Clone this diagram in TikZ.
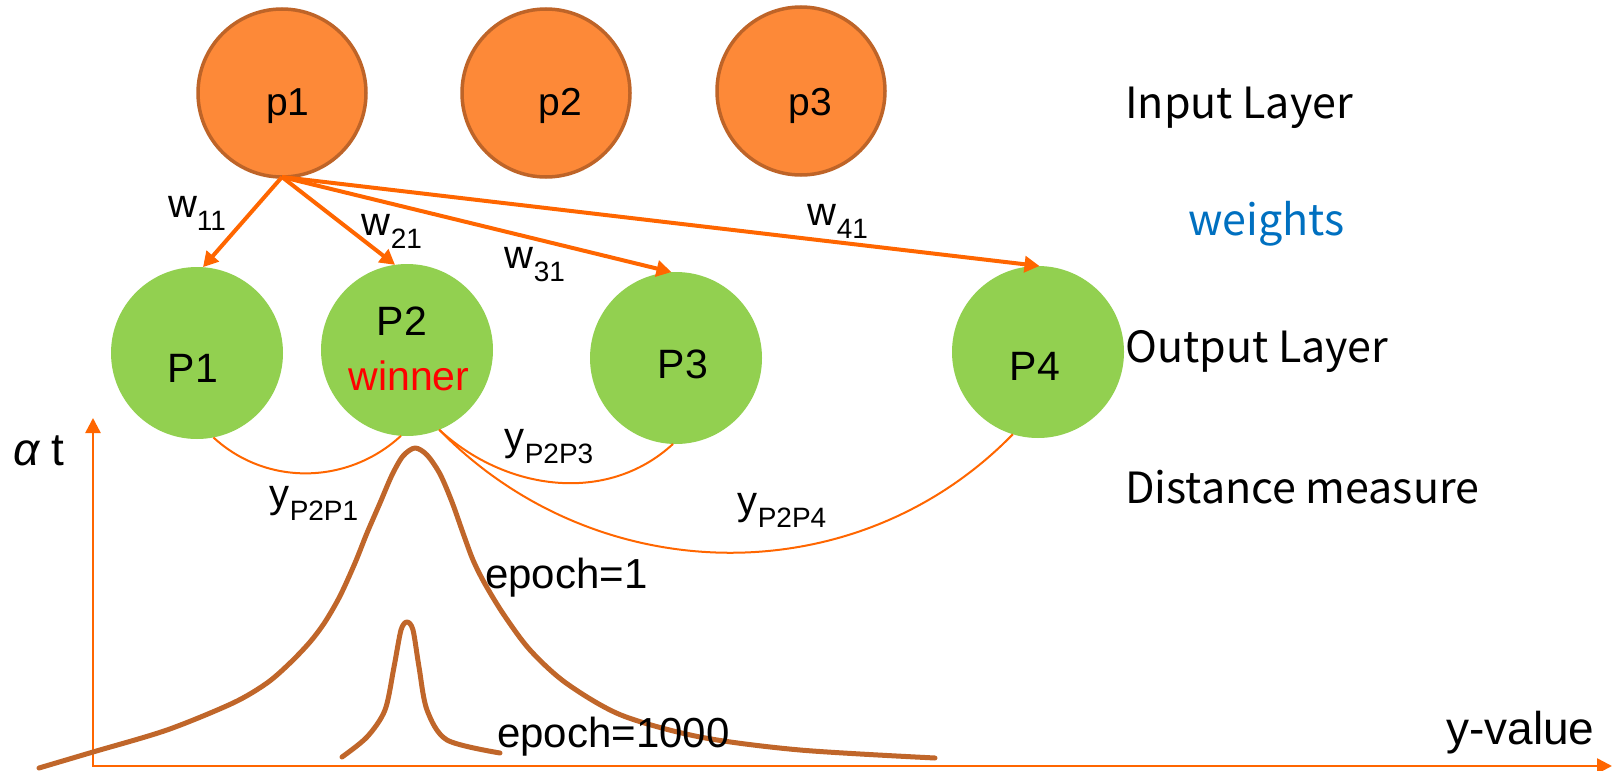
\documentclass[tikz,border=0pt]{standalone}
\usepackage{fontspec}
\setmainfont{Liberation Sans}
\newfontfamily\jpfont{Noto Sans CJK JP}
\usetikzlibrary{arrows.meta}

\definecolor{inorange}{RGB}{253,137,56}
\definecolor{inborder}{RGB}{190,100,40}
\definecolor{outgreen}{RGB}{146,208,80}
\definecolor{wire}{RGB}{255,102,0}
\definecolor{bell}{RGB}{192,102,42}
\definecolor{wblue}{RGB}{0,112,192}

% main letter followed by a lowered, smaller index
\newcommand\idx[2]{#1\raisebox{-13pt}{\fontsize{28pt}{28pt}\selectfont #2}}

\begin{document}
\begin{tikzpicture}[x=1pt,y=-1pt,
  inneuron/.style={circle,draw=inborder,fill=inorange,line width=3.5pt,
    minimum size=168pt,inner sep=0pt,outer sep=0pt},
  outneuron/.style={circle,fill=outgreen,minimum size=172pt,inner sep=0pt,outer sep=0pt},
  weight/.style={draw=wire,line width=4pt,-{Triangle[width=16pt,length=15pt]}},
  dist/.style={draw=wire,line width=2pt},
  axis/.style={draw=wire,line width=2.5pt},
  bellcurve/.style={draw=bell,line width=5pt,line cap=round,line join=round},
  nlabel/.style={inner sep=0pt,anchor=base,font=\fontsize{39pt}{39pt}\selectfont},
  olabel/.style={inner sep=0pt,anchor=base,font=\fontsize{41pt}{41pt}\selectfont},
  wlabel/.style={inner sep=0pt,anchor=base,font=\fontsize{40pt}{40pt}\selectfont},
  ylabel/.style={inner sep=0pt,anchor=base,font=\fontsize{40pt}{40pt}\selectfont},
  plain/.style={inner sep=0pt,anchor=base west,font=\fontsize{42pt}{42pt}\selectfont},
  side/.style={inner sep=0pt,anchor=base west,font=\jpfont\fontsize{43pt}{43pt}\selectfont}]
\useasboundingbox (0,0) rectangle (1612,771);

% input layer
\node[inneuron] (p1) at (282,93) {};
\node[inneuron] (p2) at (546,93) {};
\node[inneuron] (p3) at (801,91) {};
\node[nlabel] (p1t) at (288,115) {p1};
\node[nlabel] (p2t) at (560,115) {p2};
\node[nlabel] (p3t) at (810,115) {p3};

% output layer
\node[outneuron] (P1) at (197,353) {};
\node[outneuron] (P2) at (407,350) {};
\node[outneuron] (P3) at (676,358) {};
\node[outneuron] (P4) at (1038,352) {};
\node[olabel] (P1t) at (193,382) {P1};
\node[olabel] (P2t) at (402,335) {P2};
\node[olabel,text=red] (win) at (409,390) {winner};
\node[olabel] (P3t) at (683,378) {P3};
\node[olabel] (P4t) at (1035,380) {P4};

% weights from p1
\draw[weight] (p1.south) -- (P1.86);
\draw[weight] (p1.south) -- (P2.98);
\draw[weight] (p1.south) -- (P3.93);
\draw[weight] (p1.south) -- (P4.89);
\node[wlabel] (w11) at (197,217) {\idx{w}{11}};
\node[wlabel] (w21) at (392,235) {\idx{w}{21}};
\node[wlabel] (w31) at (535,268) {\idx{w}{31}};
\node[wlabel] (w41) at (838,225) {\idx{w}{41}};

% distances from the winner
\draw[dist] (P1.-79) .. controls +(53,49) and +(-53,49) .. (P2.-94);
\draw[dist] (P2.-68) .. controls +(66,61) and +(-66,61) .. (P3.-92);
\draw[dist] (P2.-68) .. controls +(157,161) and +(-157,161) .. (P4.-107);
\node[ylabel] (y21) at (314,507) {\idx{y}{P2P1}};
\node[ylabel] (y23) at (549,450) {\idx{y}{P2P3}};
\node[ylabel] (y24) at (782,514) {\idx{y}{P2P4}};

% axes
\coordinate (ytip) at (93,418);
\coordinate (xtip) at (1612,766);
\draw[axis,{Triangle[width=15pt,length=15pt]}-{Triangle[width=15pt,length=15pt]}] (ytip) |- (xtip);
\node[plain,font=\fontsize{46pt}{46pt}\selectfont] (at) at (13,465) {{\itshape α}\kern12pt t};
\node[plain,font=\fontsize{46pt}{46pt}\selectfont] (yv) at (1446,744) {y-value};

% neighbourhood function for two epochs
\draw[bellcurve] plot[smooth,tension=0.5] coordinates {
  (39,768) (93,752) (167,730) (233,703) (267,683) (290,663) (310,642)
  (325,622) (340,596) (355,563) (367,533) (380,503) (392,475) (403,456)
  (415,448) (427,455) (440,474) (452,502) (463,533) (473,560) (485,584)
  (504,615) (530,650) (566,683) (621,715) (700,737) (800,750) (935,758)};
\draw[bellcurve] plot[smooth,tension=0.5] coordinates {
  (342,757) (367,737) (385,710) (394,667) (401,630) (407,622) (413,630)
  (419,667) (427,710) (447,740) (500,753)};
\node[plain] (e1) at (485,588) {epoch=1};
\node[plain] (e1000) at (497,747) {epoch=1000};

% layer captions
\node[side] (inl) at (1125,118) {Input Layer};
\node[side,text=wblue] (wl) at (1188,235) {weights};
\node[side] (outl) at (1125,362) {Output Layer};
\node[side] (dl) at (1125,503) {Distance measure};
\end{tikzpicture}
\end{document}
